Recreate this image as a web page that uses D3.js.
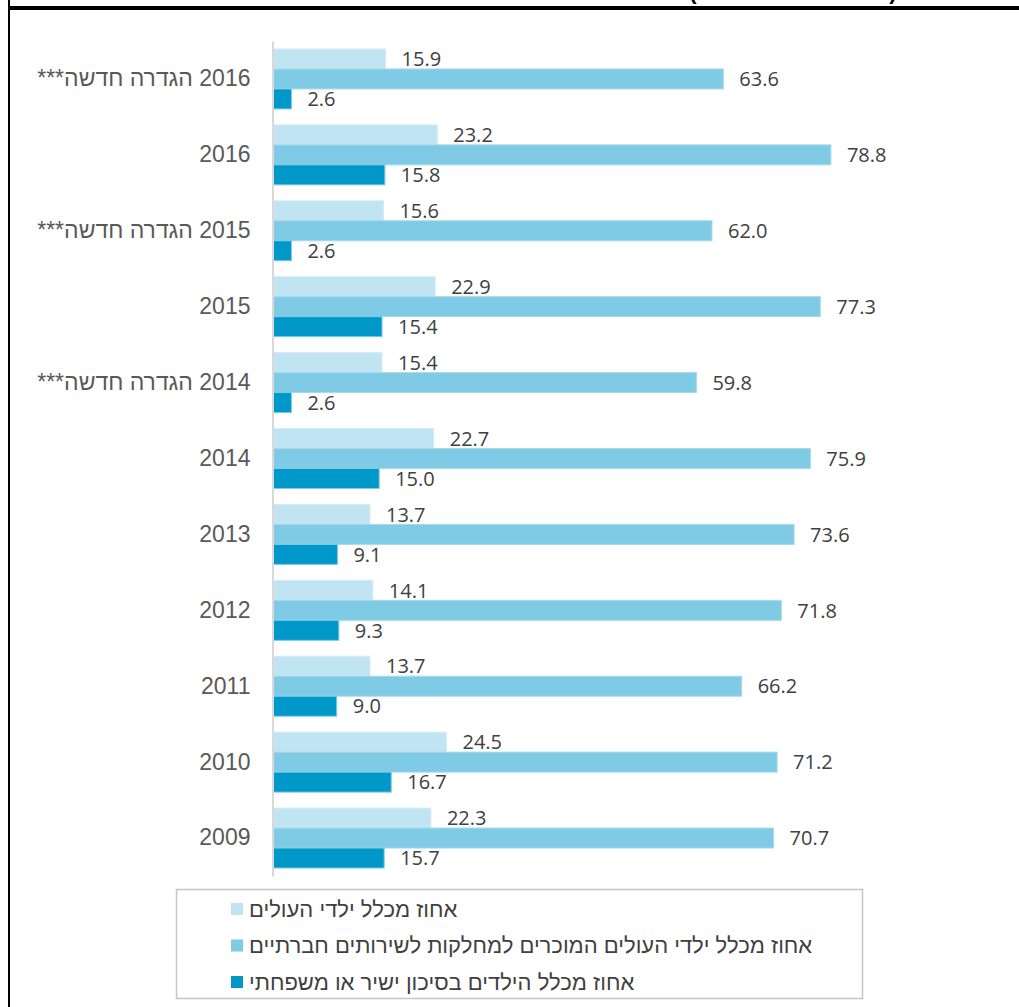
<!DOCTYPE html>
<html><head><meta charset="utf-8">
<script src="https://cdn.jsdelivr.net/npm/d3@7"></script>
<style>html,body{margin:0;padding:0;background:#fff;overflow:hidden}</style>
</head><body>
<svg id="chart" width="1019" height="1007"></svg>
<script>
const categories = ["2016 הגדרה חדשה***","2016","2015 הגדרה חדשה***","2015","2014 הגדרה חדשה***","2014","2013","2012","2011","2010","2009"];
const seriesNames = ["אחוז מכלל ילדי העולים","אחוז מכלל ילדי העולים המוכרים למחלקות לשירותים חברתיים","אחוז מכלל הילדים בסיכון ישיר או משפחתי"];
const lightValues = [15.9,23.2,15.6,22.9,15.4,22.7,13.7,14.1,13.7,24.5,22.3];
const midValues = [63.6,78.8,62.0,77.3,59.8,75.9,73.6,71.8,66.2,71.2,70.7];
const darkValues = [2.6,15.8,2.6,15.4,2.6,15.0,9.1,9.3,9.0,16.7,15.7];
const colors = ["#c1e4f2","#7fcae4","#0097c9"];
const strokes = ["#d4edf7","#a6daec","#7fcae4"];

const series = [lightValues, midValues, darkValues];
const svg = d3.select("#chart");

const x = d3.scaleLinear().domain([0,100]).range([273,981]);
const y = d3.scaleBand().domain(categories).range([41,876]).paddingInner(0.21).paddingOuter(0.105);
const ySub = d3.scaleBand().domain([0,1,2]).range([0,y.bandwidth()]);

// frame
svg.append("line").attr("x1",9).attr("x2",9).attr("y1",0).attr("y2",1007).attr("stroke","#000").attr("stroke-width",2);
svg.append("line").attr("x1",8).attr("x2",1019).attr("y1",8).attr("y2",8).attr("stroke","#000").attr("stroke-width",4);
svg.append("text").attr("x",693).attr("y",-1).attr("font-family","Liberation Sans").attr("font-weight","bold").attr("font-size",22).attr("text-anchor","middle").text("(");
svg.append("text").attr("x",893).attr("y",-1).attr("font-family","Liberation Sans").attr("font-weight","bold").attr("font-size",22).attr("text-anchor","middle").text(")");

// bars
const g = svg.append("g");
series.forEach((vals, si) => {
  g.selectAll(null).data(categories).enter().append("rect")
    .attr("x", x(0))
    .attr("y", (c) => y(c) + ySub(si))
    .attr("width", (c,i) => x(vals[i]) - x(0))
    .attr("height", ySub.bandwidth())
    .attr("fill", colors[si])
    .attr("stroke", strokes[si]).attr("stroke-width",1);
  g.selectAll(null).data(categories).enter().append("text")
    .attr("x", (c,i) => x(vals[i]) + 16)
    .attr("y", (c) => y(c) + ySub(si) + ySub.bandwidth()/2)
    .attr("dy","0.36em")
    .attr("font-family","Open Sans").attr("font-size",20).attr("fill","#404040")
    .text((c,i) => vals[i].toFixed(1));
});

// axis (category)
const axis = d3.axisLeft(y).tickSize(0).tickPadding(22);
const ax = svg.append("g").attr("transform",`translate(${x(0)-0.5},0)`).call(axis);
ax.select(".domain").attr("stroke","#d9d9d9").attr("stroke-width",2);
ax.selectAll("text").attr("font-family","Liberation Sans").attr("font-size",23).attr("fill","#595959")
  .text(d => "\u202B" + d + "\u202C");

// legend
svg.append("rect").attr("x",176.5).attr("y",889.5).attr("width",686).attr("height",109).attr("fill","#fff").attr("stroke","#c6c6c6").attr("stroke-width",1.5);
const ly = d3.scalePoint().domain([0,1,2]).range([909,982]);
seriesNames.forEach((n,i) => {
  svg.append("rect").attr("x",231).attr("y",ly(i)-6).attr("width",12).attr("height",12).attr("fill",colors[i]);
  svg.append("text").attr("x",249).attr("y",ly(i)).attr("dy","0.36em")
    .attr("font-family","Liberation Sans").attr("font-size",22).attr("fill","#404040")
    .text("\u202B" + n + "\u202C");
});
</script>
</body></html>
